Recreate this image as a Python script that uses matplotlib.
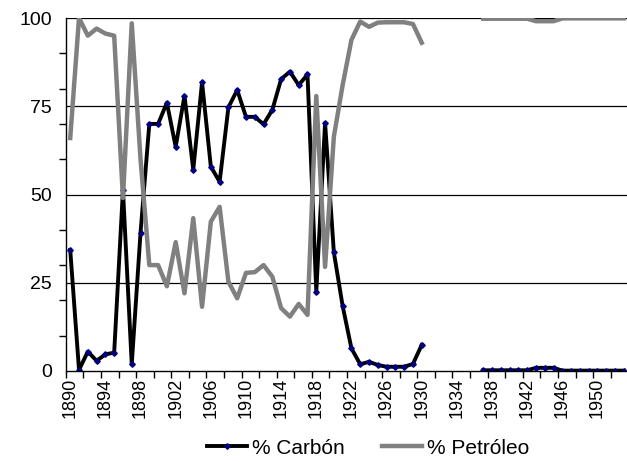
import numpy as np
import matplotlib.pyplot as plt
from matplotlib.ticker import FixedLocator

plt.rcParams['font.family'] = ['Liberation Sans', 'DejaVu Sans']

# años 1890-1953 (sin datos 1931-1936)
years = list(range(1890, 1954))

carbon_1890_1930 = [34.3, 0.3, 5.5, 2.9, 4.7, 5.2, 51.3, 1.9, 39.2, 70.0,
                    70.0, 76.0, 63.5, 78.0, 57.0, 81.8, 57.9, 53.6, 74.7, 79.6,
                    72.0, 72.0, 69.9, 74.0, 82.7, 84.8, 81.0, 84.0, 22.5, 70.3,
                    33.6, 18.4, 6.4, 1.9, 2.6, 1.7, 1.2, 1.2, 1.2, 2.0,
                    7.4]
carbon_1937_1953 = [0.2, 0.2, 0.2, 0.2, 0.2, 0.2, 0.9, 0.9, 0.9,
                    0.1, 0.1, 0.1, 0.1, 0.1, 0.1, 0.1, 0.1]

petroleo_1890_1930 = [66.0, 100.0, 95.0, 97.0, 95.6, 95.0, 49.0, 98.5, 60.0, 30.0,
                      30.0, 24.0, 36.5, 22.0, 43.3, 18.2, 42.3, 46.5, 25.3, 20.6,
                      27.8, 28.0, 30.0, 26.7, 17.8, 15.4, 19.0, 15.9, 77.9, 29.5,
                      66.4, 81.0, 93.8, 99.0, 97.5, 98.7, 98.8, 98.8, 98.8, 98.3,
                      93.0]
petroleo_1937_1953 = [99.8, 99.8, 99.8, 99.8, 99.8, 99.8, 99.1, 99.1, 99.1,
                      99.9, 99.9, 99.9, 99.9, 99.9, 99.9, 99.9, 99.9]

gap = [np.nan] * 6
carbon = carbon_1890_1930 + gap + carbon_1937_1953
petroleo = petroleo_1890_1930 + gap + petroleo_1937_1953

x = np.arange(len(years))

fig = plt.figure(figsize=(6.27, 4.62), dpi=100)
ax = fig.add_axes([0.105, 0.197, 0.897, 0.764])

# líneas de división horizontales
for v in [25, 50, 75, 100]:
    ax.axhline(v, color='black', lw=0.9, zorder=1)

ax.plot(x, carbon, color='black', lw=2.8, marker='D', markersize=2.8,
        markerfacecolor='#000080', markeredgecolor='#000080',
        label='% Carbón', zorder=3)
ax.plot(x, petroleo, color='#808080', lw=3.2, label='% Petróleo', zorder=4)

ax.set_xlim(-0.5, len(years) - 0.5)
ax.set_ylim(0, 100)

# eje y: etiquetas cada 25, marcas cada 10
ax.set_yticks([0, 25, 50, 75, 100])
ax.set_yticklabels(['0', '25', '50', '75', '100'], fontsize=14)
ax.yaxis.set_minor_locator(FixedLocator(np.arange(0, 101, 10)))
ax.tick_params(axis='y', which='major', length=0, pad=10)
ax.tick_params(axis='y', which='minor', length=5, width=1, direction='out')

# eje x: etiquetas cada 4 años, marcas entre categorías cada 2
ax.set_xticks(x[::4])
ax.set_xticklabels([str(y) for y in years[::4]], rotation=90, fontsize=13)
ax.xaxis.set_minor_locator(FixedLocator(np.arange(-0.5, len(years), 2)))
ax.tick_params(axis='x', which='major', length=0, pad=5)
ax.tick_params(axis='x', which='minor', length=5, width=1, direction='out')

for s in ['top', 'right']:
    ax.spines[s].set_visible(False)
for s in ['left', 'bottom']:
    ax.spines[s].set_color('black')
    ax.spines[s].set_linewidth(1.0)
ax.spines['left'].set_zorder(5)
ax.spines['bottom'].set_zorder(5)

fig.legend(loc='center', bbox_to_anchor=(0.587, 0.03), ncol=2, frameon=False,
           fontsize=15, handlelength=1.9, columnspacing=1.8, handletextpad=0.25)

plt.savefig('out.png', dpi=100)
